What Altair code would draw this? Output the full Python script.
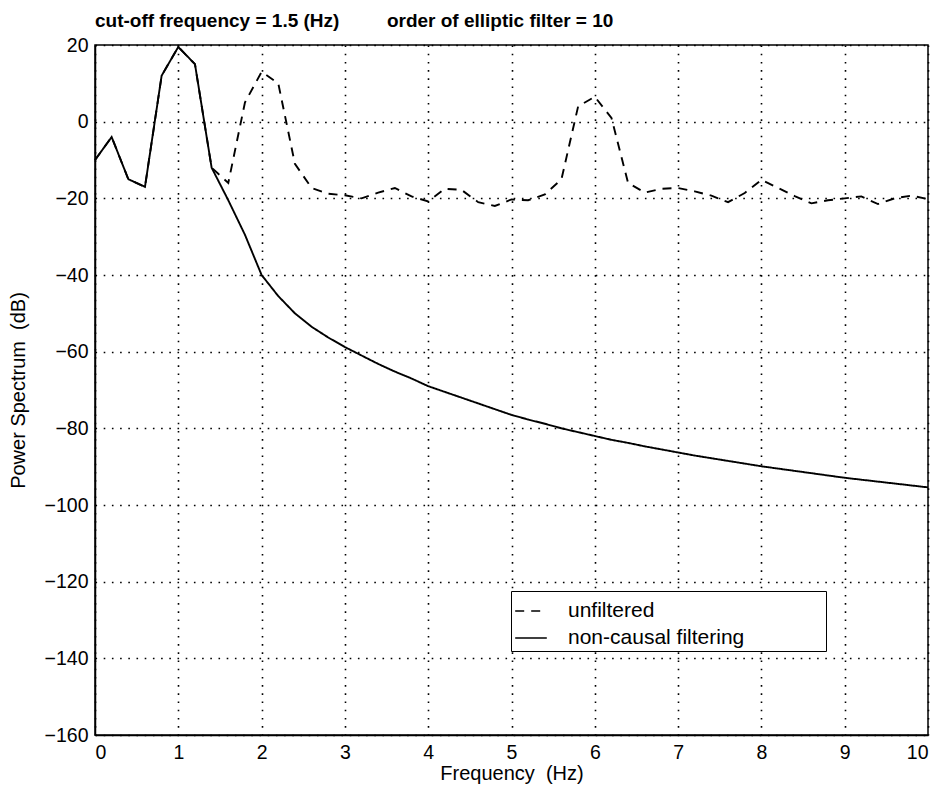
import altair as alt
import pandas as pd

# Frequency sampling (Hz)
freq = [round(i * 0.2, 1) for i in range(51)]

# Power spectrum of unfiltered signal (dB)
unfiltered = [
    -10, -4, -15, -17, 12, 19.5, 15, -12, -16, 5,
    13, 10, -11, -17.3, -18.8, -19.2, -20, -18.5, -17.3, -19.5,
    -20.8, -17.5, -17.8, -21, -22, -20.3, -20.5, -19, -15, 4,
    6.5, 1, -16, -18.5, -17.5, -17.3, -18.2, -19.3, -21, -18.6,
    -15.2, -17.3, -19.4, -21.3, -20.5, -20, -19.5, -21.5, -20, -19.3,
    -20.2,
]

# Power spectrum after non-causal filtering (dB)
filtered = [
    -10, -4, -15, -17, 12, 19.5, 15, -12, -20.5, -29.5,
    -40, -45.5, -50, -53.5, -56.3, -58.8, -61, -63.2, -65.2, -67,
    -69, -70.5, -72, -73.5, -75, -76.5, -77.7, -78.8, -80, -81,
    -82, -83, -83.8, -84.7, -85.5, -86.3, -87.1, -87.8, -88.5, -89.2,
    -89.9, -90.5, -91.1, -91.7, -92.3, -92.9, -93.4, -93.9, -94.4, -94.9,
    -95.4,
]

series_names = ["unfiltered", "non-causal filtering"]

df_u = pd.DataFrame({"f": freq, "p": unfiltered, "series": series_names[0]})
df_f = pd.DataFrame({"f": freq, "p": filtered, "series": series_names[1]})

FONT = "Liberation Sans"

x = alt.X(
    "f:Q",
    scale=alt.Scale(domain=[0, 10], nice=False),
    axis=alt.Axis(
        values=list(range(0, 11)),
        title="Frequency\u00a0\u00a0(Hz)",
        format="d",
        labelPadding=8,
        titlePadding=2,
    ),
)
y = alt.Y(
    "p:Q",
    scale=alt.Scale(domain=[-160, 20], nice=False),
    axis=alt.Axis(
        values=list(range(-160, 21, 20)),
        title="Power Spectrum\u00a0\u00a0(dB)",
        format="d",
        labelPadding=7,
        titlePadding=16,
    ),
)

dash = alt.StrokeDash(
    "series:N",
    scale=alt.Scale(domain=series_names, range=[[9, 7], [1, 0]]),
    legend=alt.Legend(
        title="\u00a0",
        titleOrient="right",
        titlePadding=79,
        orient="none",
        legendX=416,
        legendY=546,
        symbolType="stroke",
        symbolSize=1000,
        symbolStrokeColor="black",
        symbolStrokeWidth=1.6,
        labelFontSize=21,
        labelFont=FONT,
        labelColor="black",
        labelLimit=400,
        labelOffset=20,
        rowPadding=-15,
        padding=3,
        fillColor="white",
        strokeColor="black",
    ),
)

line_u = alt.Chart(df_u).mark_line(color="black", strokeWidth=1.9).encode(
    x=x, y=y, strokeDash=dash
)
line_f = alt.Chart(df_f).mark_line(color="black", strokeWidth=1.9).encode(
    x=x, y=y, strokeDash=dash
)

chart = (
    alt.layer(line_u, line_f)
    .properties(
        width=833,
        height=690,
        background="white",
        autosize=alt.AutoSizeParams(type="none"),
        padding={"left": 87, "top": 37, "right": 6, "bottom": 58},
        title=alt.Title(
            text="cut-off frequency = 1.5 (Hz)" + "\u00a0" * 9 + "order of elliptic filter = 10",
            anchor="start",
            frame="group",
            fontSize=19,
            fontWeight="bold",
            font=FONT,
            color="black",
            offset=4,
        ),
    )
    .configure_view(stroke="black", strokeWidth=1.5)
    .configure_axis(
        grid=True,
        gridColor="black",
        gridOpacity=1,
        gridDash=[1.6, 6.6],
        gridWidth=1.6,
        ticks=False,
        domainColor="black",
        domainWidth=1.5,
        labelFont=FONT,
        labelFontSize=19.5,
        labelColor="black",
        titleFont=FONT,
        titleFontSize=20,
        titleFontWeight="normal",
        titleColor="black",
    )
)

chart.save("out.html", embed_options={"renderer": "svg", "actions": False})
